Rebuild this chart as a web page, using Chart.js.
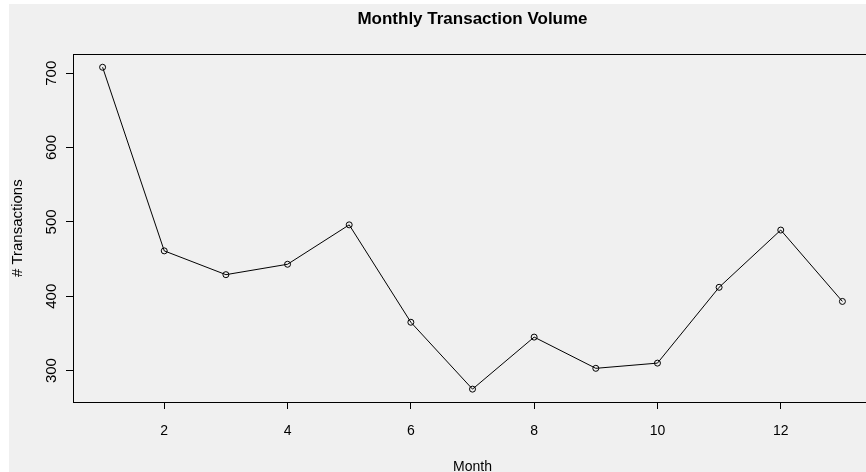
<!DOCTYPE html>
<html>
<head>
<meta charset="utf-8">
<script src="https://cdn.jsdelivr.net/npm/chart.js@4/dist/chart.umd.min.js"></script>
<style>
  html, body { margin: 0; padding: 0; background: #fff; overflow: hidden; width: 866px; height: 472px; }
  canvas { display: block; }
</style>
</head>
<body>
<canvas id="volumeChart" width="945" height="480"></canvas>
<script>
// Monthly transaction counts
const months = [1, 2, 3, 4, 5, 6, 7, 8, 9, 10, 11, 12, 13];
const transactions = [708, 461, 429, 443, 496, 365, 275, 345, 303, 310, 412, 489, 393];
const xTicks = [2, 4, 6, 8, 10, 12];
const yTicks = [300, 400, 500, 600, 700];

const FONT = '"Liberation Sans", Arial, sans-serif';

// grey panel with a thin white strip on top/left, plus the box round the plot
const frame = {
    id: 'frame',
    beforeDraw(chart) {
        const ctx = chart.ctx;
        ctx.save();
        ctx.fillStyle = '#ffffff';
        ctx.fillRect(0, 0, chart.width, chart.height);
        ctx.fillStyle = '#f0f0f0';
        ctx.fillRect(9, 4, chart.width - 9, chart.height - 4);
        ctx.restore();
    },
    afterDraw(chart) {
        const a = chart.chartArea;
        const ctx = chart.ctx;
        ctx.save();
        ctx.strokeStyle = '#000';
        ctx.lineWidth = 1;
        ctx.strokeRect(Math.round(a.left) + 0.5, Math.round(a.top) + 0.5,
            Math.round(a.right - a.left), Math.round(a.bottom - a.top));
        ctx.restore();
    }
};

new Chart(document.getElementById('volumeChart'), {
    type: 'line',
    data: {
        datasets: [{
            data: months.map((m, i) => ({ x: m, y: transactions[i] })),
            borderColor: '#000',
            borderWidth: 1,
            tension: 0,
            pointRadius: 3,
            pointBorderWidth: 1,
            pointBorderColor: '#000',
            pointBackgroundColor: 'rgba(0,0,0,0)'
        }]
    },
    options: {
        responsive: false,
        animation: false,
        layout: { padding: 0 },
        plugins: {
            legend: { display: false },
            tooltip: { enabled: false },
            title: {
                display: true,
                text: 'Monthly Transaction Volume',
                color: '#000',
                font: { family: FONT, size: 17, weight: 'bold', lineHeight: 1.2 },
                padding: { top: 9, bottom: 25 }
            }
        },
        scales: {
            x: {
                type: 'linear',
                min: 0.52,
                max: 13.48,
                afterBuildTicks: s => { s.ticks = xTicks.map(v => ({ value: v })); },
                afterFit: s => { s.height = 78; },
                grid: { display: true, drawOnChartArea: false, drawTicks: true, tickLength: 7, color: '#000', lineWidth: 1 },
                border: { display: true, color: '#000', width: 1 },
                ticks: { color: '#000', font: { family: FONT, size: 14 }, padding: 14, maxRotation: 0 },
                title: { display: true, text: 'Month', color: '#000', font: { family: FONT, size: 14 }, padding: { top: 4, bottom: 4 } }
            },
            y: {
                type: 'linear',
                min: 257.7,
                max: 725.3,
                afterBuildTicks: s => { s.ticks = yTicks.map(v => ({ value: v })); },
                afterFit: s => { s.width = 73; },
                grid: { display: true, drawOnChartArea: false, drawTicks: true, tickLength: 7, color: '#000', lineWidth: 1 },
                border: { display: true, color: '#000', width: 1 },
                ticks: { color: '#000', font: { family: FONT, size: 15 }, padding: 2, minRotation: 90, maxRotation: 90, crossAlign: 'center' },
                title: { display: true, text: '# Transactions', color: '#000', font: { family: FONT, size: 15 }, padding: { top: 9, bottom: 0 } }
            },
            // empty right-hand spacer so the title centres over the plot box
            yRight: {
                type: 'linear',
                position: 'right',
                min: 257.7,
                max: 725.3,
                afterFit: s => { s.width = 73; },
                grid: { display: false },
                border: { display: false },
                ticks: { display: false }
            }
        }
    },
    plugins: [frame]
});
</script>
</body>
</html>
